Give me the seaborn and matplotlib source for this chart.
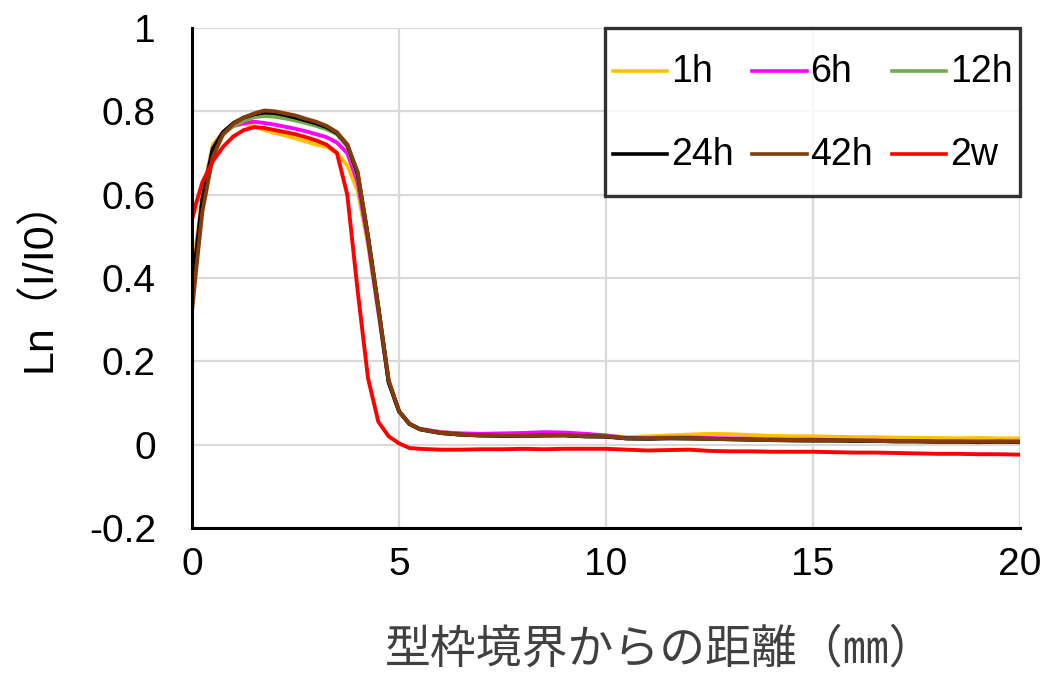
import numpy as np
import pandas as pd
import matplotlib
matplotlib.use("Agg")
import matplotlib.pyplot as plt
from matplotlib.legend_handler import HandlerLine2D
import seaborn as sns

# distance from formwork boundary (mm)
dist = [0, 0.1, 0.25, 0.5, 0.75, 1, 1.25, 1.5, 1.75, 2, 2.25, 2.5, 2.75, 3, 3.25, 3.5,
        3.75, 4, 4.25, 4.5, 4.75, 5, 5.25, 5.5, 6, 6.5, 7, 7.5, 8, 8.5, 9, 9.5, 10,
        10.5, 11, 11.5, 12, 12.5, 13, 13.5, 14, 14.5, 15, 15.5, 16, 16.5, 17, 17.5,
        18, 18.5, 19, 19.5, 20]

v_1h = [0.39, 0.48, 0.60, 0.72, 0.75, 0.765, 0.77, 0.765, 0.755, 0.748, 0.742, 0.735, 0.728, 0.72, 0.715, 0.70,
        0.67, 0.61, 0.48, 0.32, 0.15, 0.08, 0.05, 0.038, 0.03, 0.026, 0.025, 0.024, 0.025, 0.024, 0.026, 0.024, 0.022,
        0.018, 0.02, 0.022, 0.024, 0.026, 0.025, 0.023, 0.021, 0.02, 0.02, 0.019, 0.018, 0.018, 0.017, 0.016,
        0.016, 0.015, 0.016, 0.015, 0.015]
v_6h = [0.36, 0.46, 0.59, 0.71, 0.75, 0.765, 0.772, 0.775, 0.772, 0.768, 0.763, 0.758, 0.752, 0.745, 0.738, 0.725,
        0.70, 0.63, 0.49, 0.32, 0.15, 0.08, 0.05, 0.038, 0.03, 0.027, 0.026, 0.027, 0.028, 0.03, 0.029, 0.026, 0.022,
        0.016, 0.016, 0.017, 0.017, 0.016, 0.015, 0.014, 0.013, 0.012, 0.012, 0.011, 0.01, 0.01, 0.009, 0.009,
        0.008, 0.008, 0.008, 0.008, 0.008]
v_12h = [0.35, 0.45, 0.58, 0.70, 0.745, 0.765, 0.778, 0.786, 0.789, 0.787, 0.783, 0.778, 0.772, 0.765, 0.757, 0.745,
         0.715, 0.645, 0.50, 0.33, 0.15, 0.08, 0.05, 0.037, 0.028, 0.024, 0.022, 0.022, 0.021, 0.022, 0.023, 0.02, 0.02,
         0.015, 0.015, 0.016, 0.015, 0.014, 0.013, 0.012, 0.011, 0.011, 0.01, 0.01, 0.01, 0.009, 0.008, 0.008,
         0.007, 0.007, 0.007, 0.007, 0.007]
v_24h = [0.37, 0.46, 0.59, 0.71, 0.75, 0.772, 0.785, 0.793, 0.797, 0.796, 0.791, 0.785, 0.778, 0.771, 0.762, 0.748,
         0.72, 0.65, 0.50, 0.33, 0.15, 0.08, 0.05, 0.037, 0.028, 0.024, 0.022, 0.021, 0.021, 0.022, 0.022, 0.02, 0.019,
         0.015, 0.014, 0.015, 0.015, 0.014, 0.013, 0.012, 0.011, 0.01, 0.01, 0.01, 0.009, 0.009, 0.008, 0.008,
         0.007, 0.007, 0.006, 0.007, 0.006]
v_42h = [0.32, 0.42, 0.56, 0.69, 0.745, 0.77, 0.785, 0.795, 0.802, 0.80, 0.795, 0.79, 0.782, 0.775, 0.765, 0.75,
         0.72, 0.655, 0.50, 0.33, 0.155, 0.08, 0.05, 0.037, 0.028, 0.024, 0.022, 0.022, 0.021, 0.022, 0.023, 0.02, 0.02,
         0.015, 0.015, 0.016, 0.015, 0.014, 0.013, 0.012, 0.011, 0.011, 0.01, 0.01, 0.01, 0.009, 0.008, 0.008,
         0.007, 0.007, 0.007, 0.007, 0.007]
v_2w = [0.54, 0.58, 0.63, 0.68, 0.715, 0.74, 0.755, 0.762, 0.76, 0.755, 0.75, 0.745, 0.738, 0.73, 0.72, 0.70,
        0.60, 0.37, 0.16, 0.055, 0.02, 0.003, -0.008, -0.01, -0.012, -0.012, -0.011, -0.011, -0.01, -0.011, -0.01, -0.01, -0.01,
        -0.012, -0.014, -0.013, -0.012, -0.015, -0.016, -0.016, -0.017, -0.017, -0.017, -0.018, -0.019, -0.019, -0.02, -0.021,
        -0.022, -0.022, -0.023, -0.023, -0.024]

labels = ["1h", "6h", "12h", "24h", "42h", "2w"]
colors = ["#FFC000", "#FF00FF", "#70AD47", "#000000", "#843C0C", "#FF0000"]

frames = []
for lab, vals in zip(labels, [v_1h, v_6h, v_12h, v_24h, v_42h, v_2w]):
    frames.append(pd.DataFrame({"x": dist, "y": vals, "series": lab}))
df = pd.concat(frames, ignore_index=True)


# legend line handler moved down so it lines up with the label text
class LowerLine(HandlerLine2D):
    def create_artists(self, legend, orig_handle, xdescent, ydescent,
                       width, height, fontsize, trans):
        arts = super().create_artists(legend, orig_handle, xdescent, ydescent,
                                      width, height, fontsize, trans)
        for a in arts:
            a.set_ydata(np.asarray(a.get_ydata()) - 8.5)
        return arts


fig = plt.figure(figsize=(10.46, 6.75), dpi=100)
ax = fig.add_axes([0.1836, 0.2178, 0.7915, 0.7407])

sns.lineplot(data=df, x="x", y="y", hue="series", hue_order=labels,
             palette=colors, linewidth=2.8, ax=ax, legend=False)

ax.set_xlim(0, 20)
ax.set_ylim(-0.2, 1.0)
ax.set_xticks([0, 5, 10, 15, 20])
ax.set_yticks([-0.2, 0, 0.2, 0.4, 0.6, 0.8, 1.0])
ax.set_yticklabels(["-0.2", "0", "0.2", "0.4", "0.6", "0.8", "1"])
ax.grid(True, color="#d9d9d9", linewidth=1.6)
ax.set_axisbelow(True)
ax.tick_params(axis="x", length=0, labelsize=28, pad=14)
ax.tick_params(axis="y", length=0, labelsize=28, pad=26)
for t in ax.get_xticklabels() + ax.get_yticklabels():
    t.set_family("Liberation Sans")

for s in ["top", "right"]:
    ax.spines[s].set_visible(False)
for s in ["left", "bottom"]:
    ax.spines[s].set_linewidth(2.2)
    ax.spines[s].set_color("black")

ax.set_xlabel("型枠境界からの距離（㎜）", family=["Noto Sans CJK JP", "DejaVu Sans"],
              fontsize=33, color="#404040", va="center")
ax.xaxis.set_label_coords(0.565, -0.242)
ax.set_ylabel("Ln（I/I0）", family=["Liberation Sans", "Noto Sans CJK JP"],
              fontsize=31, va="center")
ax.yaxis.set_label_coords(-0.184, 0.506)

# legend filled row by row
handles = [plt.Line2D([], [], color=c, linewidth=2.6) for c in colors]
order = [0, 3, 1, 4, 2, 5]
leg = ax.legend([handles[i] for i in order], [labels[i] for i in order], ncol=3,
                loc="upper right", borderaxespad=0.0, frameon=True, fancybox=False,
                prop={"family": "Liberation Sans", "size": 27}, handlelength=1.45,
                handleheight=2.5, handletextpad=0.1, columnspacing=0.5,
                labelspacing=0.35, borderpad=0.2,
                handler_map={plt.Line2D: LowerLine()})
leg.get_frame().set_edgecolor("black")
leg.get_frame().set_linewidth(2.4)

fig.savefig("out.png", dpi=100)
